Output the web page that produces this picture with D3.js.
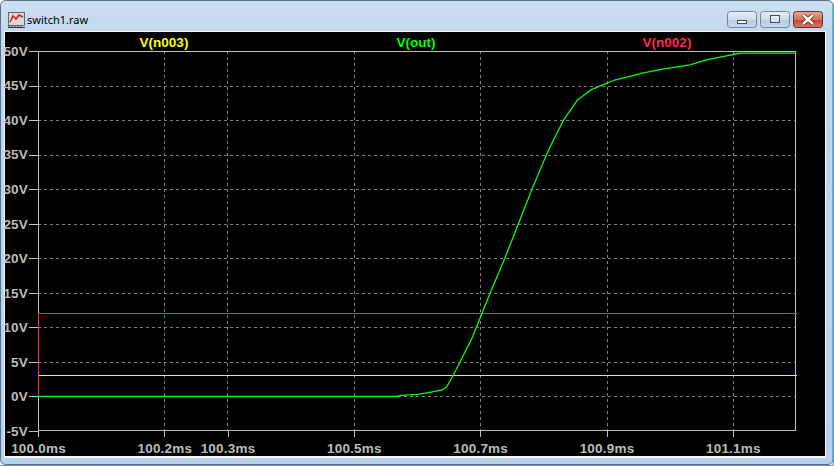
<!DOCTYPE html>
<html><head><meta charset="utf-8">
<script src="https://cdn.jsdelivr.net/npm/d3@7"></script>
<style>html,body{margin:0;padding:0;background:#fff;overflow:hidden}</style>
</head><body>
<script>
// ---- data ----
const timeMs = [100.000,100.568,100.575,100.601,100.620,100.639,100.647,100.657,100.672,100.687,100.694,100.716,100.739,100.761,100.782,100.806,100.817,100.832,100.854,100.876,100.894,100.913,100.957,100.984,101.032,101.058,101.090,101.106,101.115,101.200];
const vOut   = [0,0,0.15,0.29,0.58,0.9,1.4,3.0,5.7,8.4,10.0,15.0,20.0,25.1,30.0,35.2,37.3,40.0,42.9,44.4,45.1,45.8,46.8,47.3,48.0,48.7,49.3,49.6,49.7,49.7];
const timeN002 = [100.0,100.0,101.2];
const vN002    = [0,12,12];
const timeN003 = [100.0,101.2];
const vN003    = [3,3];
const xTicks = [100.0,100.2,100.3,100.5,100.7,100.9,101.1];
const xTickLabels = ["100.0ms","100.2ms","100.3ms","100.5ms","100.7ms","100.9ms","101.1ms"];
const yTicks = [-5,0,5,10,15,20,25,30,35,40,45,50];
const yTickLabels = ["-5V","0V","5V","10V","15V","20V","25V","30V","35V","40V","45V","50V"];
const traceNames = ["V(n003)","V(out)","V(n002)"];
const traceColors = ["#ffff00","#00ff00","#ff2a55"];

const W=834,H=466;
const svg=d3.select("body").append("svg").attr("width",W).attr("height",H);
const defs=svg.append("defs");
const g1=defs.append("linearGradient").attr("id","chrome").attr("x1",0).attr("y1",0).attr("x2",0).attr("y2",1);
g1.append("stop").attr("offset","0").attr("stop-color","#cddff2");
g1.append("stop").attr("offset","0.07").attr("stop-color","#c2d7ee");
g1.append("stop").attr("offset","1").attr("stop-color","#b9d1ea");
const gb=defs.append("linearGradient").attr("id","btn").attr("x1",0).attr("y1",0).attr("x2",0).attr("y2",1);
gb.append("stop").attr("offset","0").attr("stop-color","#e6eef8");
gb.append("stop").attr("offset","0.5").attr("stop-color","#cfdcec");
gb.append("stop").attr("offset","0.51").attr("stop-color","#b8cbe2");
gb.append("stop").attr("offset","1").attr("stop-color","#c9d9ee");
const gc=defs.append("linearGradient").attr("id","cls").attr("x1",0).attr("y1",0).attr("x2",0).attr("y2",1);
gc.append("stop").attr("offset","0").attr("stop-color","#e8a79c");
gc.append("stop").attr("offset","0.5").attr("stop-color","#d4725f");
gc.append("stop").attr("offset","0.51").attr("stop-color","#c0432e");
gc.append("stop").attr("offset","1").attr("stop-color","#d77e63");

// window chrome
svg.append("rect").attr("x",0).attr("y",0).attr("width",W).attr("height",H).attr("fill","#ffffff");
svg.append("rect").attr("x",0.5).attr("y",0.5).attr("width",W-1.5).attr("height",464).attr("rx",5)
  .attr("fill","url(#chrome)").attr("stroke","#58708c").attr("stroke-width",1);
svg.append("path").attr("d","M833.5,4 V465.5 H0").attr("fill","none").attr("stroke","#2cb4e2").attr("stroke-width",1.2);
// icon
const ic=svg.append("g");
ic.append("rect").attr("x",8.5).attr("y",12.5).attr("width",16).attr("height",13).attr("fill","#d8d8d8").attr("stroke","#666");
ic.append("path").attr("d","M10,22 L13,16 L16,19 L19,15 L23,17").attr("fill","none").attr("stroke","#e01818").attr("stroke-width",1.6);
ic.append("path").attr("d","M8,27.5 H25 M9,28 v-2 M12,28 v-2 M15,28 v-2 M18,28 v-2 M21,28 v-2").attr("stroke","#333").attr("stroke-width",1);
svg.append("text").attr("x",27).attr("y",24).text("switch1.raw")
  .attr("font-family","'Noto Sans','DejaVu Sans',sans-serif").attr("font-size",11).attr("fill","#000");
// buttons
function btn(x,fill){svg.append("rect").attr("x",x+0.5).attr("y",11.5).attr("width",29).attr("height",16).attr("rx",3)
  .attr("fill",fill).attr("stroke",fill==="url(#cls)"?"#6b2a22":"#6c82a2");}
btn(727,"url(#btn)");btn(760,"url(#btn)");btn(793,"url(#cls)");
svg.append("rect").attr("x",737.5).attr("y",20.5).attr("width",9).attr("height",3).attr("fill","#fff").attr("stroke","#3a4d6a");
svg.append("rect").attr("x",770.5).attr("y",15.5).attr("width",9).attr("height",7).attr("fill","none").attr("stroke","#3a4d6a").attr("stroke-width",1);
svg.append("rect").attr("x",772).attr("y",17).attr("width",6).attr("height",4).attr("fill","none").attr("stroke","#fff").attr("stroke-width",1);
svg.append("path").attr("d","M803,15 L813,24 M813,15 L803,24").attr("stroke","#5a2018").attr("stroke-width",4);
svg.append("path").attr("d","M803,15 L813,24 M813,15 L803,24").attr("stroke","#fff").attr("stroke-width",2.4);

// plot window
svg.append("rect").attr("x",4).attr("y",31).attr("width",822).attr("height",427).attr("fill","#f4f7fb");
svg.append("rect").attr("x",5).attr("y",32).attr("width",820).attr("height",424).attr("fill","#000");

const x=d3.scaleLinear().domain([100.0,101.2]).range([38,796]);
const y=d3.scaleLinear().domain([-5,50]).range([431,51]);
const font="'Liberation Sans',Arial,sans-serif";

// grid
const grid=svg.append("g").attr("shape-rendering","crispEdges").attr("stroke","#808080").attr("stroke-dasharray","3,3");
grid.selectAll("line.h").data(yTicks.filter(v=>v>-5&&v<50)).join("line")
  .attr("x1",38).attr("x2",796).attr("y1",d=>Math.round(y(d))+0.5).attr("y2",d=>Math.round(y(d))+0.5);
grid.selectAll("line.v").data(xTicks.filter(v=>v>100.0)).join("line").attr("class","v")
  .attr("y1",51).attr("y2",431).attr("x1",d=>Math.round(x(d))+0.5).attr("x2",d=>Math.round(x(d))+0.5);

// axes
const ax=d3.axisBottom(x).tickValues(xTicks).tickFormat((d,i)=>xTickLabels[i]).tickSize(6).tickPadding(3);
const gx=svg.append("g").attr("transform","translate(0,431)").call(ax);
const ay=d3.axisLeft(y).tickValues(yTicks).tickFormat((d,i)=>yTickLabels[i]).tickSize(9).tickPadding(1);
const gy=svg.append("g").attr("transform","translate(38,0)").call(ay);
[gx,gy].forEach(g=>{
  g.select(".domain").remove();
  g.selectAll("line").attr("stroke","#c0c0c0").attr("shape-rendering","crispEdges");
  g.selectAll("text").attr("fill","#bcbcbc").attr("font-family",font).attr("font-size",13.5).attr("font-weight","bold").attr("letter-spacing","0.2px");
});
gx.selectAll("text").attr("dy","0.95em");
svg.append("rect").attr("x",38.5).attr("y",51.5).attr("width",757).attr("height",379)
  .attr("fill","none").attr("stroke","#c0c0c0").attr("shape-rendering","crispEdges");

// traces
const line=d3.line().x(d=>x(d[0])).y(d=>y(d[1]));
svg.append("path").datum(timeN003.map((t,i)=>[t,vN003[i]])).attr("d",line).attr("fill","none").attr("stroke",traceColors[0]).attr("stroke-width",1).attr("shape-rendering","crispEdges").attr("transform","translate(0.5,0)");
svg.append("path").datum(timeN002.map((t,i)=>[t,vN002[i]])).attr("d",line).attr("fill","none").attr("stroke",traceColors[2]).attr("stroke-width",1).attr("shape-rendering","crispEdges").attr("transform","translate(0.5,0)");
svg.append("path").datum(timeMs.map((t,i)=>[t,vOut[i]])).attr("d",line).attr("fill","none").attr("stroke",traceColors[1]).attr("stroke-width",1.3);

// legend
const legX=[164,416,667];
svg.selectAll("text.leg").data(traceNames).join("text").attr("class","leg")
  .attr("x",(d,i)=>legX[i]).attr("y",47).attr("text-anchor","middle").text(d=>d)
  .attr("fill",(d,i)=>traceColors[i]).attr("font-family",font).attr("font-size",13.5).attr("font-weight","bold");
</script>
</body></html>
